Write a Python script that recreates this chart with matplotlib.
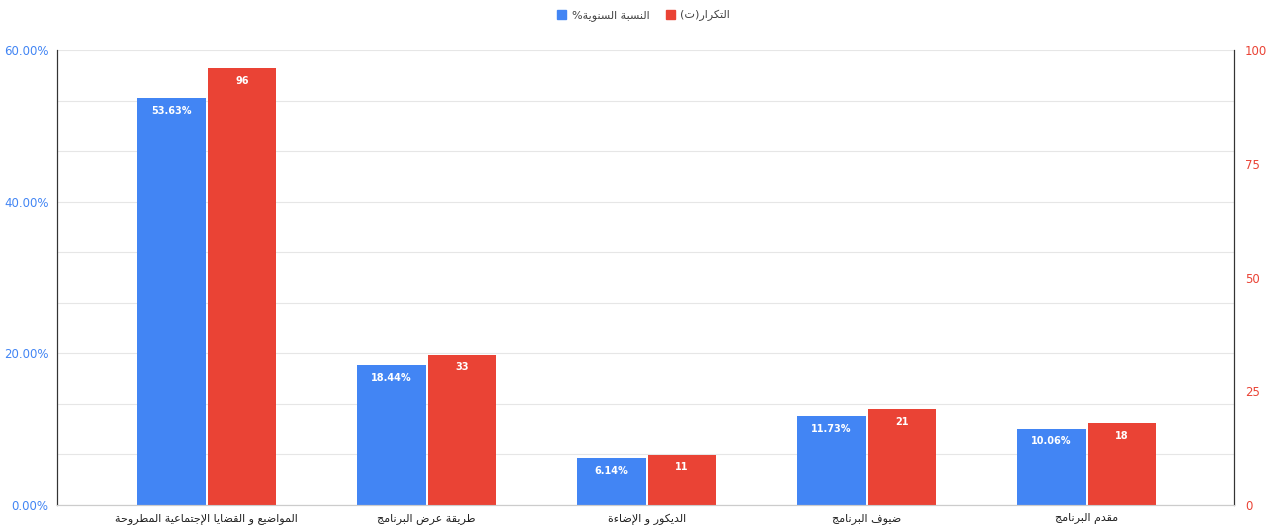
import matplotlib
matplotlib.use('Agg')
import matplotlib.pyplot as plt
from matplotlib.patches import Patch
import numpy as np

# data
categories = ['المواضيع و القضايا الإجتماعية المطروحة', 'طريقة عرض البرنامج',
              'الديكور و الإضاءة', 'ضيوف البرنامج', 'مقدم البرنامج']
percent = [53.63, 18.44, 6.14, 11.73, 10.06]
freq = [96, 33, 11, 21, 18]
percent_name = 'النسبة السنوية%'
freq_name = 'التكرار(ت)'
left_ticks = [0, 20, 40, 60]
right_ticks = [0, 25, 50, 75, 100]

BLUE = '#4285f4'
RED = '#ea4335'

# matplotlib does no arabic shaping, so do it by hand with presentation forms
# (isolated, final, initial, medial)
FORMS = {
    'ء': (0xFE80,),
    'آ': (0xFE81, 0xFE82), 'أ': (0xFE83, 0xFE84), 'إ': (0xFE87, 0xFE88),
    'ئ': (0xFE89, 0xFE8A, 0xFE8B, 0xFE8C),
    'ا': (0xFE8D, 0xFE8E),
    'ب': (0xFE8F, 0xFE90, 0xFE91, 0xFE92),
    'ة': (0xFE93, 0xFE94),
    'ت': (0xFE95, 0xFE96, 0xFE97, 0xFE98),
    'ج': (0xFE9D, 0xFE9E, 0xFE9F, 0xFEA0),
    'ح': (0xFEA1, 0xFEA2, 0xFEA3, 0xFEA4),
    'د': (0xFEA9, 0xFEAA),
    'ر': (0xFEAD, 0xFEAE),
    'س': (0xFEB1, 0xFEB2, 0xFEB3, 0xFEB4),
    'ض': (0xFEBD, 0xFEBE, 0xFEBF, 0xFEC0),
    'ط': (0xFEC1, 0xFEC2, 0xFEC3, 0xFEC4),
    'ع': (0xFEC9, 0xFECA, 0xFECB, 0xFECC),
    'ف': (0xFED1, 0xFED2, 0xFED3, 0xFED4),
    'ق': (0xFED5, 0xFED6, 0xFED7, 0xFED8),
    'ك': (0xFED9, 0xFEDA, 0xFEDB, 0xFEDC),
    'ل': (0xFEDD, 0xFEDE, 0xFEDF, 0xFEE0),
    'م': (0xFEE1, 0xFEE2, 0xFEE3, 0xFEE4),
    'ن': (0xFEE5, 0xFEE6, 0xFEE7, 0xFEE8),
    'ه': (0xFEE9, 0xFEEA, 0xFEEB, 0xFEEC),
    'و': (0xFEED, 0xFEEE),
    'ي': (0xFEF1, 0xFEF2, 0xFEF3, 0xFEF4),
    'لآ': (0xFEF5, 0xFEF6), 'لأ': (0xFEF7, 0xFEF8),
    'لإ': (0xFEF9, 0xFEFA), 'لا': (0xFEFB, 0xFEFC),
}
MIRROR = {'(': ')', ')': '('}


def shape(text):
    units = []
    i = 0
    while i < len(text):
        if text[i] == 'ل' and text[i:i + 2] in FORMS and i + 1 < len(text):
            units.append(text[i:i + 2])
            i += 2
        else:
            units.append(text[i])
            i += 1
    out = []
    for k, u in enumerate(units):
        if u not in FORMS:
            out.append(MIRROR.get(u, u))
            continue
        f = FORMS[u]
        prev = units[k - 1] if k > 0 else None
        nxt = units[k + 1] if k + 1 < len(units) else None
        join_prev = prev in FORMS and len(FORMS[prev]) == 4 and len(f) >= 2
        join_next = len(f) == 4 and nxt in FORMS and len(FORMS[nxt]) >= 2
        if join_prev and join_next:
            out.append(chr(f[3]))
        elif join_prev:
            out.append(chr(f[1]))
        elif join_next:
            out.append(chr(f[2]))
        else:
            out.append(chr(f[0]))
    return ''.join(reversed(out))


fig = plt.figure(figsize=(12.67, 5.31), dpi=100)
ax = fig.add_axes([57 / 1267, 26 / 531, 1177 / 1267, 455 / 531])
ax2 = ax.twinx()

x = np.arange(len(categories))
w = 0.31
off = 0.16

for g in np.arange(0, 60.01, 60 / 9):
    ax.axhline(g, color='#e6e6e6', lw=0.8, zorder=0)

b1 = ax.bar(x - off, percent, w, color=BLUE, zorder=2)
b2 = ax2.bar(x + off, freq, w, color=RED, zorder=2)

for rect, v in zip(b1, percent):
    ax.annotate('%.2f%%' % v, (rect.get_x() + rect.get_width() / 2, rect.get_height()),
                xytext=(0, -9), textcoords='offset points', ha='center', va='center',
                color='white', fontsize=7, fontweight='bold')
for rect, v in zip(b2, freq):
    ax2.annotate(str(v), (rect.get_x() + rect.get_width() / 2, rect.get_height()),
                 xytext=(0, -9), textcoords='offset points', ha='center', va='center',
                 color='white', fontsize=7, fontweight='bold')

ax.set_xlim(-0.68, 4.67)
ax.set_ylim(0, 60)
ax2.set_ylim(0, 100)

ax.set_yticks(left_ticks)
ax.set_yticklabels(['%.2f%%' % t for t in left_ticks], color=BLUE, fontsize=8.5)
ax2.set_yticks(right_ticks)
ax2.set_yticklabels([str(t) for t in right_ticks], color=RED, fontsize=8.5)
ax.set_xticks(x)
ax.set_xticklabels([shape(c) for c in categories], fontsize=8, color='#222222')

ax.tick_params(axis='both', length=0)
ax.tick_params(axis='y', pad=6)
ax.tick_params(axis='x', pad=6)
ax2.tick_params(axis='y', length=0, pad=8)

for a in (ax, ax2):
    a.spines['top'].set_visible(False)
    a.spines['left'].set_color('#333333')
    a.spines['right'].set_color('#333333')
    a.spines['bottom'].set_color('#cccccc')

handles = [Patch(color=BLUE), Patch(color=RED)]
fig.legend(handles, [shape(percent_name), shape(freq_name)], loc='upper center',
           bbox_to_anchor=(0.508, 1.0), ncol=2, frameon=False, fontsize=8,
           handlelength=0.8, handleheight=0.8, handletextpad=0.5, columnspacing=1.5,
           labelcolor='#444444')

fig.savefig('out.png', dpi=100)
